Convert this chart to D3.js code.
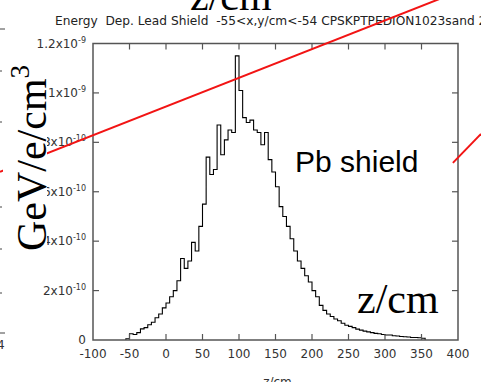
<!DOCTYPE html>
<html>
<head>
<meta charset="utf-8">
<script src="https://cdn.jsdelivr.net/npm/d3@7"></script>
<style>
  body { margin: 0; background: #fff; }
  svg { display: block; }
</style>
</head>
<body>
<div id="chart"></div>
<script>
// ---- data ----
const title = "Energy  Dep. Lead Shield  -55<x,y/cm<-54 CPSKPTPEDION1023sand 2";
const xLabel = "z/cm";
const xTicks = [-100, -50, 0, 50, 100, 150, 200, 250, 300, 350, 400];
const yTicks = [0, 2e-10, 4e-10, 6e-10, 8e-10, 1e-9, 1.2e-9];

// lower edges of the 5 cm z bins
const zLow = [-55, -50, -45, -40, -35, -30, -25, -20, -15, -10, -5, 0, 5, 10, 15, 20, 25, 30, 35, 40,
  45, 50, 55, 60, 65, 70, 75, 80, 85, 90, 95, 100, 105, 110, 115, 120, 125, 130, 135, 140,
  145, 150, 155, 160, 165, 170, 175, 180, 185, 190, 195, 200, 205, 210, 215, 220, 225, 230, 235, 240,
  245, 250, 255, 260, 265, 270, 275, 280, 285, 290, 295, 300, 305, 310, 315, 320, 325, 330, 335, 340,
  345, 350];
const binWidth = 5;
// energy deposit per bin, in units of 1e-10 GeV/e/cm3
const edep = [0.05, 0.25, 0.22, 0.30, 0.45, 0.50, 0.62, 0.72, 0.90, 1.05, 1.30, 1.50, 1.75, 2.00, 2.40, 3.30, 2.90, 3.20, 3.95, 3.60,
  4.60, 5.50, 7.40, 6.70, 6.90, 8.70, 7.50, 8.10, 8.50, 8.40, 11.50, 10.10, 9.00, 8.80, 8.90, 8.50, 8.40, 7.90, 8.40, 7.30,
  6.80, 6.20, 5.40, 5.00, 4.60, 4.10, 3.60, 3.20, 2.90, 2.60, 2.35, 2.00, 1.75, 1.40, 1.20, 1.05, 0.95, 0.85, 0.78, 0.68,
  0.60, 0.55, 0.50, 0.44, 0.40, 0.36, 0.33, 0.30, 0.27, 0.25, 0.22, 0.20, 0.20, 0.17, 0.16, 0.14, 0.13, 0.12, 0.10, 0.10,
  0.09, 0.07];

// slide overlay (red guide lines), given in plot units
const redLines = [
  [[-227.4, 0.681e-9], [375.3, 1.381e-9]],
  [[393.0, 0.717e-9], [431.5, 0.834e-9]]
];

// ---- layout ----
const W = 481, H = 382;
const plot = { left: 93, right: 458, top: 43.5, bottom: 340 };

const svg = d3.select("#chart").append("svg")
  .attr("width", W)
  .attr("height", H);

svg.append("rect").attr("width", W).attr("height", H).attr("fill", "#fff");

const x = d3.scaleLinear().domain([-100, 400]).range([plot.left, plot.right]);
const y = d3.scaleLinear().domain([0, 1.2e-9]).range([plot.bottom, plot.top]);

// title
svg.append("text")
  .attr("x", 55).attr("y", 25)
  .attr("font-family", "DejaVu Sans")
  .attr("font-size", 12.2)
  .attr("fill", "#222")
  .attr("xml:space", "preserve")
  .text(title);

// histogram as a step line
const steps = [[zLow[0], 0]];
zLow.forEach((z, i) => {
  steps.push([z, edep[i] * 1e-10]);
  steps.push([z + binWidth, edep[i] * 1e-10]);
});
steps.push([zLow[zLow.length - 1] + binWidth, 0]);

const line = d3.line()
  .x(d => x(d[0]))
  .y(d => y(d[1]));

svg.append("path")
  .datum(steps)
  .attr("fill", "none")
  .attr("stroke", "#000")
  .attr("stroke-width", 1.1)
  .attr("d", line);

// frame + inward ticks
const axisColor = "#555";
svg.append("rect")
  .attr("x", plot.left).attr("y", plot.top)
  .attr("width", plot.right - plot.left).attr("height", plot.bottom - plot.top)
  .attr("fill", "none").attr("stroke", axisColor).attr("stroke-width", 1.5);

const tickLen = 6;
const ticks = svg.append("g").attr("stroke", axisColor).attr("stroke-width", 1.2);
xTicks.slice(1, -1).forEach(t => {
  ticks.append("line").attr("x1", x(t)).attr("x2", x(t)).attr("y1", plot.bottom).attr("y2", plot.bottom - tickLen);
  ticks.append("line").attr("x1", x(t)).attr("x2", x(t)).attr("y1", plot.top).attr("y2", plot.top + tickLen);
});
yTicks.slice(1, -1).forEach(t => {
  ticks.append("line").attr("x1", plot.left).attr("x2", plot.left + tickLen).attr("y1", y(t)).attr("y2", y(t));
  ticks.append("line").attr("x1", plot.right).attr("x2", plot.right - tickLen).attr("y1", y(t)).attr("y2", y(t));
});

// x tick labels
svg.append("g")
  .attr("font-family", "DejaVu Sans").attr("font-size", 12).attr("fill", "#333")
  .attr("text-anchor", "middle")
  .selectAll("text")
  .data(xTicks)
  .join("text")
  .attr("x", d => x(d))
  .attr("y", 358)
  .text(d => d);

svg.append("text")
  .attr("x", (plot.left + plot.right) / 2 + 2).attr("y", 386)
  .attr("font-family", "DejaVu Sans").attr("font-size", 12).attr("fill", "#333")
  .attr("text-anchor", "middle")
  .text(xLabel);

// y tick labels, gnuplot style "2x10^-10"
const yLab = svg.append("g")
  .attr("font-family", "DejaVu Sans").attr("font-size", 12).attr("fill", "#333")
  .attr("text-anchor", "end");
yTicks.forEach(t => {
  const txt = yLab.append("text").attr("x", 86).attr("y", y(t) + 4);
  if (t === 0) { txt.text("0"); return; }
  const e = Math.floor(Math.log10(t) + 1e-9);
  const m = +(t / Math.pow(10, e)).toFixed(1);
  txt.append("tspan").text(m + "x10");
  txt.append("tspan").attr("font-size", 8).attr("dy", -5).text(e);
});

// red overlay lines
svg.append("g")
  .selectAll("line")
  .data(redLines)
  .join("line")
  .attr("x1", d => x(d[0][0])).attr("y1", d => y(d[0][1]))
  .attr("x2", d => x(d[1][0])).attr("y2", d => y(d[1][1]))
  .attr("stroke", "#f21414").attr("stroke-width", 2);

// slide overlay texts
svg.append("rect").attr("x", 3).attr("y", 52).attr("width", 44).attr("height", 210).attr("fill", "#fff");
const gev = svg.append("text")
  .attr("transform", "translate(46,251) rotate(-90)")
  .attr("font-family", "Liberation Serif").attr("font-size", 42).attr("fill", "#000");
gev.append("tspan").text("GeV/e/cm");
gev.append("tspan").attr("font-size", 27).attr("dy", -17).text("3");

svg.append("text")
  .attr("x", 190).attr("y", 10)
  .attr("font-family", "Liberation Serif").attr("font-size", 42).attr("fill", "#000")
  .text("z/cm");

svg.append("text")
  .attr("x", 357).attr("y", 313)
  .attr("font-family", "Liberation Serif").attr("font-size", 42).attr("fill", "#000")
  .text("z/cm");

svg.append("text")
  .attr("x", 295).attr("y", 172)
  .attr("font-family", "Liberation Sans").attr("font-size", 30).attr("fill", "#000")
  .text("Pb shield");

// edge of the neighbouring plot on the slide
const edgeMarks = [29, 71, 122, 207, 249, 293, 333];
svg.append("g").attr("stroke", "#444").attr("stroke-width", 1)
  .selectAll("line").data(edgeMarks).join("line")
  .attr("x1", 0).attr("x2", (d, i) => (i === 0 || i === 6) ? 5 : 2)
  .attr("y1", d => d).attr("y2", d => d);
svg.append("text").attr("x", -3).attr("y", 349)
  .attr("font-family", "DejaVu Sans").attr("font-size", 12).attr("fill", "#333").text("4");
</script>
</body>
</html>
